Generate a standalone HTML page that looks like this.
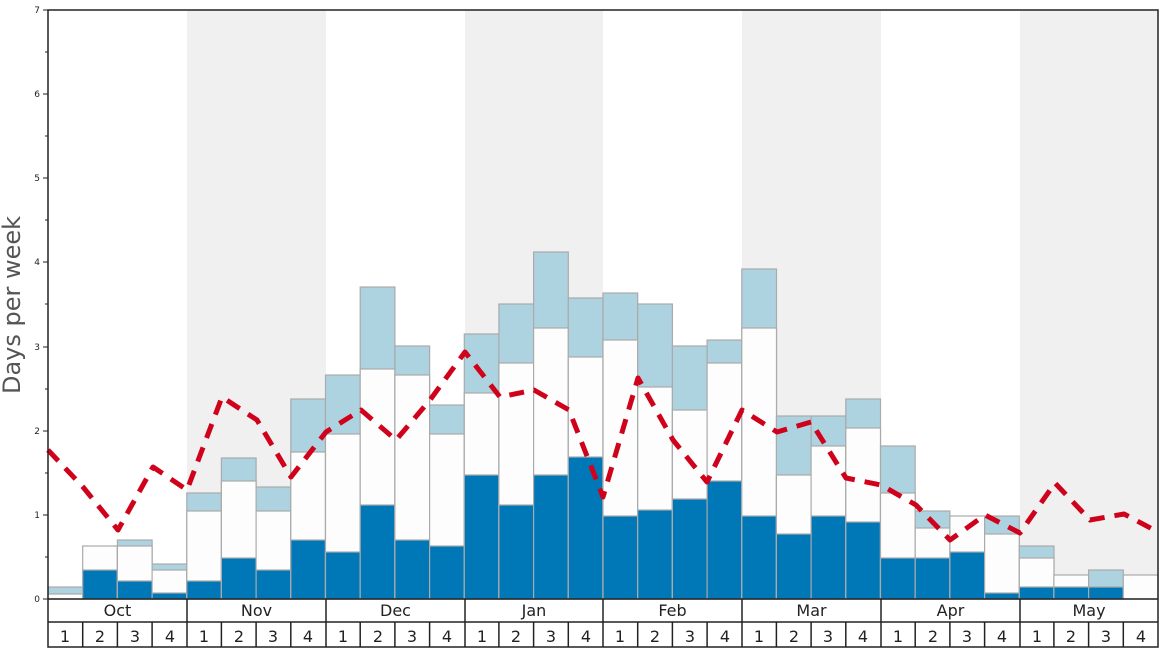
<!DOCTYPE html>
<html><head><meta charset="utf-8"><style>
body{margin:0;background:#fff;}
svg{display:block;font-family:"DejaVu Sans","Liberation Sans",sans-serif;}
</style></head><body>
<svg width="1168" height="648" viewBox="0 0 1168 648">
<rect width="1168" height="648" fill="#fff"/>
<g fill="#f0f0f0">
<rect x="187" y="10" width="139" height="589"/>
<rect x="465" y="10" width="138" height="589"/>
<rect x="742" y="10" width="139" height="589"/>
<rect x="1020" y="10" width="138" height="589"/>
</g>
<g stroke="#aaa" stroke-width="1.2">
<rect x="48" y="587" width="34.7" height="12" fill="#aed3e0"/><rect x="48" y="594" width="34.7" height="5" fill="#fdfdfd"/>
<rect x="82.7" y="546" width="34.7" height="53" fill="#fdfdfd"/><rect x="82.7" y="570" width="34.7" height="29" fill="#0077b6"/>
<rect x="117.4" y="540" width="34.7" height="59" fill="#aed3e0"/><rect x="117.4" y="546" width="34.7" height="53" fill="#fdfdfd"/><rect x="117.4" y="581" width="34.7" height="18" fill="#0077b6"/>
<rect x="152.1" y="564" width="34.7" height="35" fill="#aed3e0"/><rect x="152.1" y="570" width="34.7" height="29" fill="#fdfdfd"/><rect x="152.1" y="593" width="34.7" height="6" fill="#0077b6"/>
<rect x="186.8" y="493" width="34.7" height="106" fill="#aed3e0"/><rect x="186.8" y="511" width="34.7" height="88" fill="#fdfdfd"/><rect x="186.8" y="581" width="34.7" height="18" fill="#0077b6"/>
<rect x="221.4" y="458" width="34.7" height="141" fill="#aed3e0"/><rect x="221.4" y="481" width="34.7" height="118" fill="#fdfdfd"/><rect x="221.4" y="558" width="34.7" height="41" fill="#0077b6"/>
<rect x="256.1" y="487" width="34.7" height="112" fill="#aed3e0"/><rect x="256.1" y="511" width="34.7" height="88" fill="#fdfdfd"/><rect x="256.1" y="570" width="34.7" height="29" fill="#0077b6"/>
<rect x="290.8" y="399" width="34.7" height="200" fill="#aed3e0"/><rect x="290.8" y="452" width="34.7" height="147" fill="#fdfdfd"/><rect x="290.8" y="540" width="34.7" height="59" fill="#0077b6"/>
<rect x="325.5" y="375" width="34.7" height="224" fill="#aed3e0"/><rect x="325.5" y="434" width="34.7" height="165" fill="#fdfdfd"/><rect x="325.5" y="552" width="34.7" height="47" fill="#0077b6"/>
<rect x="360.2" y="287" width="34.7" height="312" fill="#aed3e0"/><rect x="360.2" y="369" width="34.7" height="230" fill="#fdfdfd"/><rect x="360.2" y="505" width="34.7" height="94" fill="#0077b6"/>
<rect x="394.9" y="346" width="34.7" height="253" fill="#aed3e0"/><rect x="394.9" y="375" width="34.7" height="224" fill="#fdfdfd"/><rect x="394.9" y="540" width="34.7" height="59" fill="#0077b6"/>
<rect x="429.6" y="405" width="34.7" height="194" fill="#aed3e0"/><rect x="429.6" y="434" width="34.7" height="165" fill="#fdfdfd"/><rect x="429.6" y="546" width="34.7" height="53" fill="#0077b6"/>
<rect x="464.3" y="334" width="34.7" height="265" fill="#aed3e0"/><rect x="464.3" y="393" width="34.7" height="206" fill="#fdfdfd"/><rect x="464.3" y="475" width="34.7" height="124" fill="#0077b6"/>
<rect x="498.9" y="304" width="34.7" height="295" fill="#aed3e0"/><rect x="498.9" y="363" width="34.7" height="236" fill="#fdfdfd"/><rect x="498.9" y="505" width="34.7" height="94" fill="#0077b6"/>
<rect x="533.6" y="252" width="34.7" height="347" fill="#aed3e0"/><rect x="533.6" y="328" width="34.7" height="271" fill="#fdfdfd"/><rect x="533.6" y="475" width="34.7" height="124" fill="#0077b6"/>
<rect x="568.3" y="298" width="34.7" height="301" fill="#aed3e0"/><rect x="568.3" y="357" width="34.7" height="242" fill="#fdfdfd"/><rect x="568.3" y="457" width="34.7" height="142" fill="#0077b6"/>
<rect x="603" y="293" width="34.7" height="306" fill="#aed3e0"/><rect x="603" y="340" width="34.7" height="259" fill="#fdfdfd"/><rect x="603" y="516" width="34.7" height="83" fill="#0077b6"/>
<rect x="637.7" y="304" width="34.7" height="295" fill="#aed3e0"/><rect x="637.7" y="387" width="34.7" height="212" fill="#fdfdfd"/><rect x="637.7" y="510" width="34.7" height="89" fill="#0077b6"/>
<rect x="672.4" y="346" width="34.7" height="253" fill="#aed3e0"/><rect x="672.4" y="410" width="34.7" height="189" fill="#fdfdfd"/><rect x="672.4" y="499" width="34.7" height="100" fill="#0077b6"/>
<rect x="707.1" y="340" width="34.7" height="259" fill="#aed3e0"/><rect x="707.1" y="363" width="34.7" height="236" fill="#fdfdfd"/><rect x="707.1" y="481" width="34.7" height="118" fill="#0077b6"/>
<rect x="741.8" y="269" width="34.7" height="330" fill="#aed3e0"/><rect x="741.8" y="328" width="34.7" height="271" fill="#fdfdfd"/><rect x="741.8" y="516" width="34.7" height="83" fill="#0077b6"/>
<rect x="776.4" y="416" width="34.7" height="183" fill="#aed3e0"/><rect x="776.4" y="475" width="34.7" height="124" fill="#fdfdfd"/><rect x="776.4" y="534" width="34.7" height="65" fill="#0077b6"/>
<rect x="811.1" y="416" width="34.7" height="183" fill="#aed3e0"/><rect x="811.1" y="446" width="34.7" height="153" fill="#fdfdfd"/><rect x="811.1" y="516" width="34.7" height="83" fill="#0077b6"/>
<rect x="845.8" y="399" width="34.7" height="200" fill="#aed3e0"/><rect x="845.8" y="428" width="34.7" height="171" fill="#fdfdfd"/><rect x="845.8" y="522" width="34.7" height="77" fill="#0077b6"/>
<rect x="880.5" y="446" width="34.7" height="153" fill="#aed3e0"/><rect x="880.5" y="493" width="34.7" height="106" fill="#fdfdfd"/><rect x="880.5" y="558" width="34.7" height="41" fill="#0077b6"/>
<rect x="915.2" y="511" width="34.7" height="88" fill="#aed3e0"/><rect x="915.2" y="528" width="34.7" height="71" fill="#fdfdfd"/><rect x="915.2" y="558" width="34.7" height="41" fill="#0077b6"/>
<rect x="949.9" y="516" width="34.7" height="83" fill="#fdfdfd"/><rect x="949.9" y="552" width="34.7" height="47" fill="#0077b6"/>
<rect x="984.6" y="516" width="34.7" height="83" fill="#aed3e0"/><rect x="984.6" y="534" width="34.7" height="65" fill="#fdfdfd"/><rect x="984.6" y="593" width="34.7" height="6" fill="#0077b6"/>
<rect x="1019.3" y="546" width="34.7" height="53" fill="#aed3e0"/><rect x="1019.3" y="558" width="34.7" height="41" fill="#fdfdfd"/><rect x="1019.3" y="587" width="34.7" height="12" fill="#0077b6"/>
<rect x="1053.9" y="575" width="34.7" height="24" fill="#fdfdfd"/><rect x="1053.9" y="587" width="34.7" height="12" fill="#0077b6"/>
<rect x="1088.6" y="570" width="34.7" height="29" fill="#aed3e0"/><rect x="1088.6" y="587" width="34.7" height="12" fill="#0077b6"/>
<rect x="1123.3" y="575" width="34.7" height="24" fill="#fdfdfd"/>
</g>
<polyline fill="none" stroke="#d0021b" stroke-width="5" stroke-dasharray="15,10" stroke-linejoin="round"
points="48,450 83,487 118,530 153,467 187,490 222,397 257,420 291,477 326,432 361,410 396,440 430,400 465,352 500,397 534,390 569,410 603,497 638,378 673,440 707,482 742,410 777,432 811,422 846,478 881,485 916,505 950,540 985,515 1020,533 1055,483 1090,520 1124,514 1158,532"/>
<rect x="48" y="10" width="1110" height="637" fill="none" stroke="#222" stroke-width="1.5"/>
<line x1="48" y1="599" x2="1158" y2="599" stroke="#222" stroke-width="1.5"/>
<line x1="48" y1="622" x2="1158" y2="622" stroke="#222" stroke-width="1.5"/>
<g stroke="#222" stroke-width="1.5">
<line x1="187" y1="599" x2="187" y2="647"/><line x1="326" y1="599" x2="326" y2="647"/><line x1="465" y1="599" x2="465" y2="647"/><line x1="603" y1="599" x2="603" y2="647"/><line x1="742" y1="599" x2="742" y2="647"/><line x1="881" y1="599" x2="881" y2="647"/><line x1="1020" y1="599" x2="1020" y2="647"/>
<line x1="82.7" y1="622" x2="82.7" y2="647"/><line x1="117.4" y1="622" x2="117.4" y2="647"/><line x1="152.1" y1="622" x2="152.1" y2="647"/>
<line x1="221.4" y1="622" x2="221.4" y2="647"/><line x1="256.1" y1="622" x2="256.1" y2="647"/><line x1="290.8" y1="622" x2="290.8" y2="647"/>
<line x1="360.2" y1="622" x2="360.2" y2="647"/><line x1="394.9" y1="622" x2="394.9" y2="647"/><line x1="429.6" y1="622" x2="429.6" y2="647"/>
<line x1="498.9" y1="622" x2="498.9" y2="647"/><line x1="533.6" y1="622" x2="533.6" y2="647"/><line x1="568.3" y1="622" x2="568.3" y2="647"/>
<line x1="637.7" y1="622" x2="637.7" y2="647"/><line x1="672.4" y1="622" x2="672.4" y2="647"/><line x1="707.1" y1="622" x2="707.1" y2="647"/>
<line x1="776.4" y1="622" x2="776.4" y2="647"/><line x1="811.1" y1="622" x2="811.1" y2="647"/><line x1="845.8" y1="622" x2="845.8" y2="647"/>
<line x1="915.2" y1="622" x2="915.2" y2="647"/><line x1="949.9" y1="622" x2="949.9" y2="647"/><line x1="984.6" y1="622" x2="984.6" y2="647"/>
<line x1="1053.9" y1="622" x2="1053.9" y2="647"/><line x1="1088.6" y1="622" x2="1088.6" y2="647"/><line x1="1123.3" y1="622" x2="1123.3" y2="647"/>
</g>
<g stroke="#222" stroke-width="1">
<line x1="43" y1="599" x2="48" y2="599"/><line x1="43" y1="515" x2="48" y2="515"/><line x1="43" y1="431" x2="48" y2="431"/><line x1="43" y1="347" x2="48" y2="347"/><line x1="43" y1="262" x2="48" y2="262"/><line x1="43" y1="178" x2="48" y2="178"/><line x1="43" y1="94" x2="48" y2="94"/><line x1="43" y1="10" x2="48" y2="10"/>
<line x1="45" y1="557" x2="48" y2="557"/><line x1="45" y1="473" x2="48" y2="473"/><line x1="45" y1="389" x2="48" y2="389"/><line x1="45" y1="304" x2="48" y2="304"/><line x1="45" y1="220" x2="48" y2="220"/><line x1="45" y1="136" x2="48" y2="136"/><line x1="45" y1="52" x2="48" y2="52"/>
</g>
<g font-size="9" fill="#222" text-anchor="end">
<text x="40" y="602">0</text><text x="40" y="518">1</text><text x="40" y="434">2</text><text x="40" y="350">3</text><text x="40" y="265">4</text><text x="40" y="181">5</text><text x="40" y="97">6</text><text x="40" y="13">7</text>
</g>
<text transform="translate(20,305) rotate(-90)" text-anchor="middle" font-size="24" fill="#555">Days per week</text>
<g font-size="16" fill="#222" text-anchor="middle">
<text x="117.5" y="616">Oct</text><text x="256.5" y="616">Nov</text><text x="395.5" y="616">Dec</text><text x="534" y="616">Jan</text><text x="672.5" y="616">Feb</text><text x="811.5" y="616">Mar</text><text x="950.5" y="616">Apr</text><text x="1089" y="616">May</text>
</g>
<g font-size="16" fill="#222" text-anchor="middle">
<text x="65" y="642">1</text><text x="100" y="642">2</text><text x="135" y="642">3</text><text x="170" y="642">4</text>
<text x="204" y="642">1</text><text x="239" y="642">2</text><text x="273" y="642">3</text><text x="308" y="642">4</text>
<text x="343" y="642">1</text><text x="378" y="642">2</text><text x="412" y="642">3</text><text x="447" y="642">4</text>
<text x="482" y="642">1</text><text x="516" y="642">2</text><text x="551" y="642">3</text><text x="586" y="642">4</text>
<text x="620" y="642">1</text><text x="655" y="642">2</text><text x="690" y="642">3</text><text x="725" y="642">4</text>
<text x="759" y="642">1</text><text x="794" y="642">2</text><text x="828" y="642">3</text><text x="863" y="642">4</text>
<text x="898" y="642">1</text><text x="933" y="642">2</text><text x="967" y="642">3</text><text x="1002" y="642">4</text>
<text x="1037" y="642">1</text><text x="1071" y="642">2</text><text x="1106" y="642">3</text><text x="1141" y="642">4</text>
</g>
</svg>
</body></html>
